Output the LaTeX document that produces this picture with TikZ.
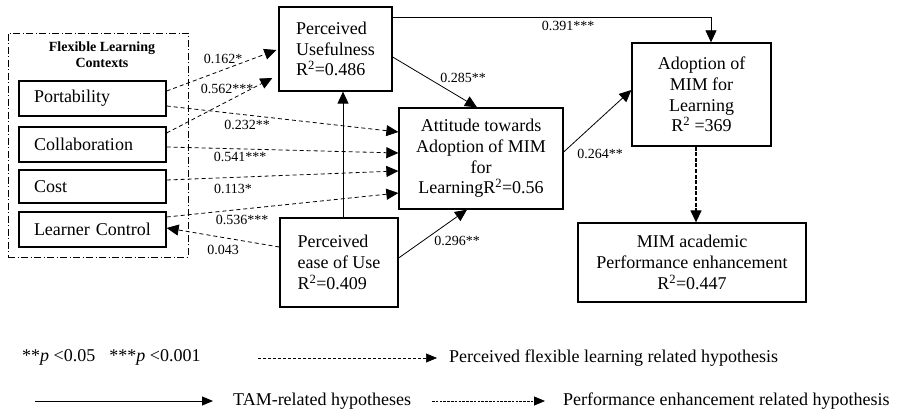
\documentclass[tikz,border=0pt]{standalone}
\usepackage{fontspec}
\setmainfont{Liberation Serif}
\usetikzlibrary{arrows.meta}

\begin{document}
\begin{tikzpicture}[x=1pt,y=-1pt,
  box/.style={draw, line width=1.3pt, font=\fontsize{18}{20.7}\selectfont, inner sep=0pt},
  flbox/.style={box, minimum width=147pt, text width=117pt, inner xsep=15pt, align=left},
  lab/.style={font=\fontsize{14}{16}\selectfont, inner sep=0pt},
  legtxt/.style={font=\fontsize{18}{20}\selectfont, inner sep=0pt, anchor=west},
  tipA/.style={-{Triangle[length=12pt,width=11pt]}},
  tipB/.style={-{Triangle[length=11pt,width=9pt]}},
  conn/.style={tipA, line width=0.8pt},
  flex/.style={conn, dash pattern=on 4pt off 3pt},
  perf/.style={tipA, line width=1.3pt, dash pattern=on 4pt off 1.6pt}
]
\useasboundingbox (0,0) rectangle (899,411);

% flexible learning contexts group
\node[draw, line width=0.8pt, dash pattern=on 7pt off 2.5pt on 1pt off 2.5pt,
      minimum width=180pt, minimum height=224pt, inner sep=0pt] (flc) at (98,145) {};
\node[font=\bfseries\fontsize{14}{16}\selectfont, align=center, inner sep=0pt] (flctitle) at (102,55)
  {Flexible Learning\\Contexts};

\node[flbox, minimum height=35pt] (port)   at (92.5,98.5)  {Portability};
\node[flbox, minimum height=35pt] (collab) at (92.5,144.5) {Collaboration};
\node[flbox, minimum height=33pt] (cost)   at (92.5,186.5) {Cost};
\node[flbox, minimum height=35pt] (lc)     at (92.5,229.5) {Learner Control};

% TAM constructs
\node[box, minimum width=113pt, minimum height=84pt, align=left] (pu) at (335.5,49)
  {Perceived\\Usefulness\\R\textsuperscript{2}=0.486};
\node[box, minimum width=118pt, minimum height=89pt, align=left] (peou) at (339,262.5)
  {Perceived\\ease of Use\\R\textsuperscript{2}=0.409};
\node[box, minimum width=164pt, minimum height=101pt, align=center] (att) at (481,158.5)
  {Attitude towards\\Adoption of MIM\\for\\LearningR\textsuperscript{2}=0.56};
\node[box, minimum width=139pt, minimum height=103pt, align=center] (adopt) at (701.5,94.5)
  {Adoption of\\MIM for\\Learning\\R\textsuperscript{2} =369};
\node[box, minimum width=228pt, minimum height=79pt, align=center] (mim) at (692,262.5)
  {MIM academic\\Performance enhancement\\R\textsuperscript{2}=0.447};

% flexible learning paths
\draw[flex] ([yshift=7.5pt]port.east) -- ([yshift=-1pt,xshift=-2pt]pu.west);
\draw[flex] ([yshift=11.5pt]collab.east) -- ([yshift=-29pt,xshift=-6pt]pu.west);
\draw[flex] ([yshift=-7.5pt]port.east) -- ([yshift=26.5pt]att.west);
\draw[flex] ([yshift=-2.5pt]collab.east) -- ([yshift=5.5pt]att.west);
\draw[flex] ([yshift=6.5pt]cost.east) -- ([yshift=-12.5pt]att.west);
\draw[flex] ([yshift=12.5pt]lc.east) -- ([yshift=-34.5pt]att.west);
\draw[flex] ([yshift=15.5pt]peou.west) -- ([yshift=1.5pt]lc.east);

% TAM paths
\coordinate (vx) at (343,0);
\coordinate (vy) at (696,0);
\draw[conn] (peou.north -| vx) -- (pu.south -| vx);
\draw[conn] ([yshift=-8pt]pu.east) -- ([xshift=-4pt]att.north);
\draw[conn] ([yshift=4.5pt]peou.east) -- ([xshift=-14pt]att.south);
\draw[conn] ([yshift=32pt]pu.east) -| ([xshift=9.5pt]adopt.north);
\draw[conn] ([yshift=6.5pt]att.east) -- ([yshift=4.5pt]adopt.west);

% performance path
\draw[perf] (adopt.south -| vy) -- (mim.north -| vy);

% path coefficients
\node[lab] (l1)  at (223,59)  {0.162*};
\node[lab] (l2)  at (227,89)  {0.562***};
\node[lab] (l3)  at (247,125) {0.232**};
\node[lab] (l4)  at (240,157) {0.541***};
\node[lab] (l5)  at (233,189) {0.113*};
\node[lab] (l6)  at (242,220) {0.536***};
\node[lab] (l7)  at (223,250) {0.043};
\node[lab] (l8)  at (463,78)  {0.285**};
\node[lab] (l9)  at (568,26)  {0.391***};
\node[lab] (l10) at (600,154) {0.264**};
\node[lab] (l11) at (457,241) {0.296**};

% legend
\node[legtxt] (sig) at (22,357) {**\textit{p} <0.05\hspace{14pt}***\textit{p} <0.001};
\node[legtxt] (lgflex) at (449,358) {Perceived flexible learning related hypothesis};
\node[legtxt] (lgtam)  at (233,401) {TAM-related hypotheses};
\node[legtxt] (lgperf) at (563,401) {Performance enhancement related hypothesis};
\coordinate (a1) at (258,358);
\coordinate (a2) at (437,358);
\coordinate (b1) at (35,401);
\coordinate (b2) at (213,401);
\coordinate (c1) at (432,401);
\coordinate (c2) at (545,401);
\draw[tipB, line width=0.6pt, dash pattern=on 3pt off 2pt] (a1) -- (a2);
\draw[tipB, line width=1pt] (b1) -- (b2);
\draw[tipB, line width=0.8pt, dash pattern=on 2.5pt off 1.3pt] (c1) -- (c2);
\end{tikzpicture}
\end{document}
